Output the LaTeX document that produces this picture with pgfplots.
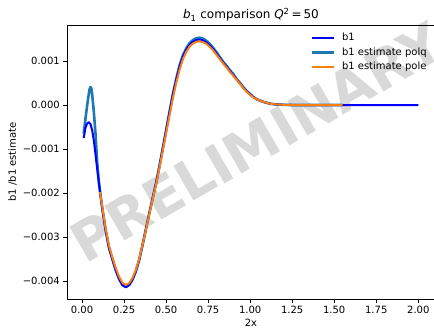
\documentclass[border=0pt]{standalone}
\usepackage{pgfplots}
\pgfplotsset{compat=1.18}
\usepackage{fontspec}
\setmainfont{DejaVu Sans}
\definecolor{mplblue}{RGB}{31,119,180}
\definecolor{mplorange}{RGB}{255,127,14}
\definecolor{wmgray}{RGB}{217,217,217}
\begin{document}
\begin{tikzpicture}
\useasboundingbox (-67bp,-30bp) rectangle (367bp,299bp);
% watermark
\node[rotate=30, text=wmgray, inner sep=0pt] at (190bp,157bp) {\fontsize{55bp}{60bp}\selectfont\bfseries PRELIMINARY};
\begin{axis}[
  at={(0,0)}, anchor=south west,
  scale only axis, width=368bp, height=274bp,
  xmin=-0.0895, xmax=2.0995,
  ymin=-0.00441, ymax=0.00182,
  axis line style={black, line width=0.8bp},
  every tick/.style={black, line width=0.8bp},
  major tick length=3.5bp,
  tick align=outside,
  xtick pos=bottom, ytick pos=left,
  xtick={0,0.25,0.5,0.75,1,1.25,1.5,1.75,2},
  xticklabels={0.00,0.25,0.50,0.75,1.00,1.25,1.50,1.75,2.00},
  ytick={-0.004,-0.003,-0.002,-0.001,0,0.001},
  yticklabels={−0.004,−0.003,−0.002,−0.001,0.000,0.001},
  scaled y ticks=false, scaled x ticks=false,
  tick label style={font=\fontsize{10bp}{12bp}\selectfont, inner sep=0pt},
  xticklabel style={anchor=north, yshift=-3.5bp},
  yticklabel style={anchor=east, xshift=-3.5bp},
  legend image code/.code={\draw[#1] (0bp,0bp) -- (22bp,0bp);},
  legend style={draw=none, fill=none, inner sep=0pt, outer sep=0pt,
    at={(243/368,266/274)}, anchor=north west,
    font=\fontsize{10bp}{12bp}\selectfont,
    row sep=5bp, column sep=7bp,
    nodes={inner sep=0pt, text height=7.5bp, text depth=2bp}},
  legend cell align=left,
  line join=round,
]
% polq drawn first (beneath)
\addplot[mplblue, line width=2.6bp, forget plot] coordinates {
(0.010,-0.00065) (0.020,-0.00032) (0.030,-0.00002) (0.040,0.00025) (0.045,0.00036)
(0.050,0.00041) (0.055,0.00038) (0.060,0.00025) (0.070,-0.00015) (0.080,-0.00065)
(0.090,-0.00130) (0.100,-0.00175) (0.11,-0.00206) (0.12,-0.00234) (0.14,-0.00284)
(0.16,-0.00324) (0.18,-0.00350) (0.20,-0.00375) (0.22,-0.00395) (0.24,-0.00409)
(0.26,-0.00414) (0.28,-0.00409) (0.30,-0.00397) (0.32,-0.00378) (0.34,-0.00352)
(0.36,-0.00318) (0.38,-0.00282) (0.40,-0.00246) (0.42,-0.00212) (0.44,-0.00178)
(0.46,-0.00140) (0.48,-0.00099) (0.50,-0.00058) (0.52,-0.00016) (0.54,0.00024)
(0.56,0.00059) (0.58,0.00090) (0.60,0.00113) (0.62,0.00129) (0.64,0.00141)
(0.66,0.00148) (0.68,0.00152) (0.70,0.00153) (0.72,0.00151) (0.74,0.00146)
(0.76,0.00139) (0.78,0.00130) (0.80,0.00120) (0.82,0.00109) (0.84,0.00098)
(0.86,0.00089) (0.88,0.00079) (0.90,0.00070) (0.92,0.00059) (0.94,0.00050)
(0.96,0.00040) (0.98,0.00032) (1.00,0.00025) (1.02,0.00018) (1.04,0.00013)
(1.06,0.00010) (1.08,0.00007) (1.10,0.00005) (1.12,0.00003) (1.15,0.000015)
(1.20,0.000005) (1.25,0) (1.55,0)
};
% b1
\addplot[blue, line width=2bp, forget plot] coordinates {
(0.01,-0.00075) (0.02,-0.00052) (0.03,-0.00042) (0.04,-0.00039) (0.05,-0.00043)
(0.06,-0.00057) (0.07,-0.00080) (0.08,-0.00112) (0.09,-0.00145) (0.10,-0.00176)
(0.11,-0.00206) (0.12,-0.00234) (0.14,-0.00284) (0.16,-0.00324) (0.18,-0.00350)
(0.20,-0.00375) (0.22,-0.00395) (0.24,-0.00409) (0.26,-0.00414) (0.28,-0.00409)
(0.30,-0.00397) (0.32,-0.00378) (0.34,-0.00352) (0.36,-0.00318) (0.38,-0.00282)
(0.40,-0.00246) (0.42,-0.00212) (0.44,-0.00178) (0.46,-0.00140) (0.48,-0.00099)
(0.50,-0.00058) (0.52,-0.00017) (0.54,0.00023) (0.56,0.00057) (0.58,0.00087)
(0.60,0.00110) (0.62,0.00126) (0.64,0.00137) (0.66,0.00144) (0.68,0.00148)
(0.70,0.00149) (0.72,0.00147) (0.74,0.00142) (0.76,0.00135) (0.78,0.00127)
(0.80,0.00117) (0.82,0.00106) (0.84,0.00096) (0.86,0.00087) (0.88,0.00077)
(0.90,0.00068) (0.92,0.00058) (0.94,0.00049) (0.96,0.00039) (0.98,0.00031)
(1.00,0.00024) (1.02,0.00018) (1.04,0.00013) (1.06,0.00010) (1.08,0.00007)
(1.10,0.00005) (1.12,0.00003) (1.15,0.000015) (1.20,0.000005) (1.25,0.000001)
(1.30,0) (2.00,0)
};
% pole
\addplot[mplorange, line width=2bp, forget plot] coordinates {
(0.107,-0.00198) (0.12,-0.00230) (0.14,-0.00280) (0.16,-0.00319) (0.18,-0.00346)
(0.20,-0.00370) (0.22,-0.00390) (0.24,-0.00404) (0.26,-0.00409) (0.28,-0.00405)
(0.30,-0.00393) (0.32,-0.00375) (0.34,-0.00350) (0.36,-0.00318) (0.38,-0.00283)
(0.40,-0.00248) (0.42,-0.00214) (0.44,-0.00181) (0.46,-0.00144) (0.48,-0.00104)
(0.50,-0.00064) (0.52,-0.00024) (0.54,0.00015) (0.56,0.00050) (0.58,0.00080)
(0.60,0.00104) (0.62,0.00121) (0.64,0.00133) (0.66,0.00140) (0.68,0.00144)
(0.70,0.00145) (0.72,0.00143) (0.74,0.00139) (0.76,0.00132) (0.78,0.00124)
(0.80,0.00114) (0.82,0.00104) (0.84,0.00094) (0.86,0.00085) (0.88,0.00075)
(0.90,0.00066) (0.92,0.00057) (0.94,0.00048) (0.96,0.00038) (0.98,0.00030)
(1.00,0.00023) (1.02,0.00017) (1.04,0.00013) (1.06,0.00010) (1.08,0.00007)
(1.10,0.00005) (1.12,0.00003) (1.15,0.000015) (1.20,0.000005) (1.25,0.000001)
(1.30,0) (1.55,0)
};
\addlegendimage{blue, line width=2bp}
\addlegendentry{b1}
\addlegendimage{mplblue, line width=3bp}
\addlegendentry{b1 estimate polq}
\addlegendimage{mplorange, line width=2bp}
\addlegendentry{b1 estimate pole}
\end{axis}
% title and labels
\node[anchor=base, inner sep=0pt] at (184bp,280bp) {\fontsize{12bp}{14bp}\selectfont\textit{b}\textsubscript{1} comparison \textit{Q}\textsuperscript{2}\,=\,50};
\node[inner sep=0pt] at (184bp,-24bp) {\fontsize{10bp}{12bp}\selectfont 2x};
\node[rotate=90, inner sep=0pt] at (-54.5bp,137bp) {\fontsize{10bp}{12bp}\selectfont b1 /b1 estimate};
\end{tikzpicture}
\end{document}
